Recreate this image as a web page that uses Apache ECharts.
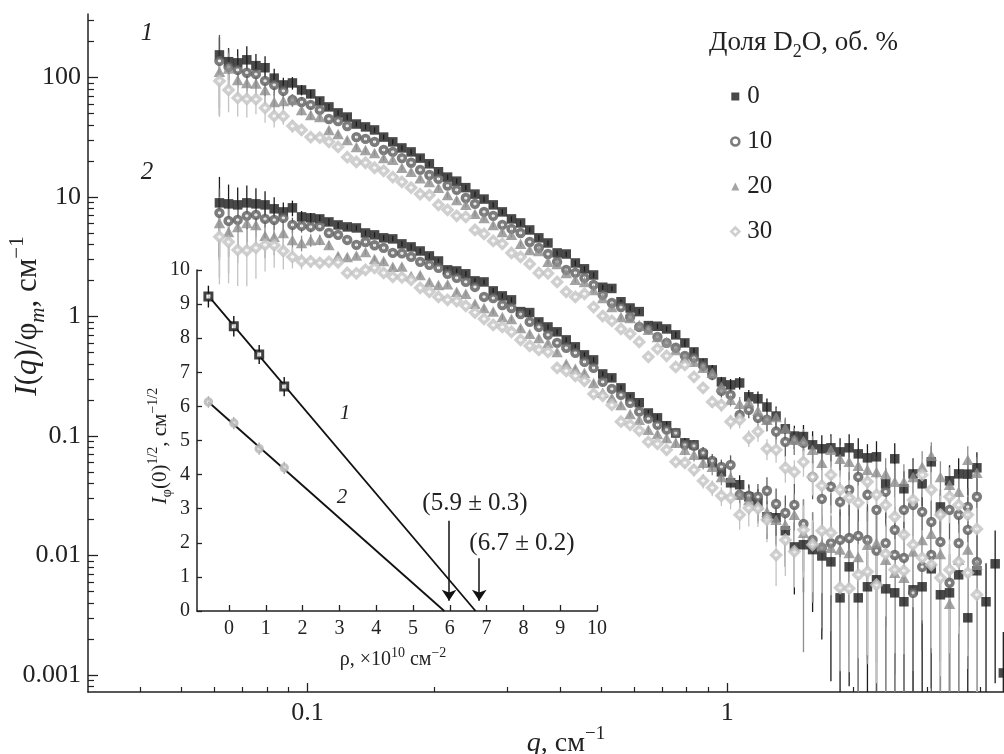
<!DOCTYPE html>
<html><head><meta charset="utf-8">
<script src="https://cdn.jsdelivr.net/npm/echarts@6/dist/echarts.min.js"></script>
<style>html,body{margin:0;padding:0;background:#fff}#c{width:1004px;height:754px}</style>
</head><body><div id="c"></div>
<script>
// ---------- main plot data ----------
const q = [
 0.0617,0.06487,0.0682,0.0717,0.07538,0.07925,0.08332,0.0876,0.09209,0.09682,
 0.1018,0.107,0.1125,0.1183,0.1244,0.1308,0.1375,0.1445,0.1519,0.1597,
 0.1679,0.1766,0.1856,0.1952,0.2052,0.2157,0.2268,0.2384,0.2507,0.2635,
 0.2771,0.2913,0.3063,0.322,0.3385,0.3559,0.3742,0.3934,0.4136,0.4348,
 0.4571,0.4806,0.5053,0.5312,0.5585,0.5872,0.6173,0.649,0.6823,0.7174,
 0.7542,0.7929,0.8336,0.8764,0.9214,0.9688,1.019,1.071,1.126,1.184,
 1.244,1.308,1.376,1.446,1.52,1.598,1.681,1.767,1.858,1.953,
 2.053,2.159,2.269,2.386,2.508,2.637,2.773,2.915,3.065,3.222,
 3.387,3.561,3.744,3.936,4.138,4.351,4.55];

// curve 1 (upper set), D2O 0,10,20,30 %
const up0 = [
 155,136,133,141,126,121,99.1,86.9,90.3,78.9,
 73.1,63.8,56.9,50.7,46.8,40.9,38.7,36.5,31.8,29.0,
 25.8,23.9,21.2,19.0,16.3,14.7,13.6,12.0,10.6,9.63,
 8.61,7.52,6.57,6.08,5.31,4.56,4.13,3.41,3.34,2.81,
 2.51,2.23,1.76,1.72,1.33,1.18,1.10,0.84,0.83,0.788,
 0.703,0.602,0.506,0.410,0.358,0.284,0.268,0.278,0.213,0.205,
 0.175,0.147,0.115,0.100,0.099,0.0844,0.0782,0.0797,0.0737,0.0797,
 0.0709,0.0657,0.0670,0.0398,0.0645,0.0362,0.0482,0.0398,0.0608,0.0255,
 0.0422,0.0482,0.0480,0.0542];
const up1 = [
 138,123,116,110,107,93.9,86.9,77.4,65.0,62.5,
 59.1,53.7,45.1,43.4,39.4,31.8,30.7,29.0,24.8,23.9,
 21.2,19.4,16.9,15.3,14.2,12.5,11.5,9.82,8.78,7.52,
 6.97,5.85,5.42,5.01,4.21,3.76,3.34,2.87,2.46,2.32,
 2.11,1.84,1.52,1.30,1.20,0.991,0.819,0.788,0.676,0.602,
 0.548,0.469,0.451,0.387,0.325,0.239,0.221,0.150,0.166,0.142,
 0.137,0.109,0.0894,0.0929,0.0877,0.0455,0.0298,0.0376,0.0281,0.0355,
 0.0455,0.0322,0.0241,0.0342,0.0164,0.0241,0.0265,0.0232,0.0191,0.0227,
 0.0241,0.0219,0.0255,0.0310];
const up2 = [
 112,119,95.7,90.3,89.5,78.9,62.5,63.8,65.0,53.7,
 48.7,46.8,36.5,33.8,30.1,26.3,24.8,23.4,21.2,20.5,
 17.6,16.3,14.4,13.4,12.0,10.4,9.48,8.61,7.24,6.70,
 5.85,5.11,4.83,4.06,3.61,3.54,2.87,2.76,2.32,2.03,
 1.95,1.67,1.43,1.20,0.991,0.972,0.851,0.774,0.676,0.614,
 0.526,0.451,0.418,0.372,0.338,0.258,0.201,0.186,0.193,0.163,
 0.137,0.144,0.117,0.0929,0.0915,0.0766,0.0597,0.0766,0.0645,0.0608,
 0.0563,0.0521,0.0501,0.0482,0.0414,0.0414,0.0455,0.0552,0.0683,0.0455,
 0.0391,0.0342,0.0632,0.0492];
const up3 = [
 93.9,78.9,67.6,66.3,66.0,55.8,47.8,47.5,39.4,36.5,
 31.8,31.5,29.0,26.3,21.6,19.7,19.4,17.6,16.6,14.7,
 13.4,12.0,10.6,10.4,8.61,7.82,6.97,6.83,5.31,4.92,
 4.30,4.06,3.41,3.16,2.76,2.32,2.30,1.95,1.61,1.46,
 1.55,1.20,1.01,0.920,0.788,0.717,0.614,0.460,0.537,0.469,
 0.379,0.394,0.313,0.253,0.193,0.182,0.132,0.137,0.0963,0.109,
 0.0782,0.0766,0.0542,0.0501,0.0608,0.0455,0.0384,0.0473,0.0355,0.0304,
 0.0276,0.0414,0.0322,0.0265,0.0211,0.0149,0.0292,0.0473,0.0355,0.0219,
 0.0310,0.0265,0.0219,0.0167];

// curve 2 (lower set), D2O 0,10,20,30 %
const low0 = [
 8.95,8.78,8.61,8.95,8.78,8.61,7.98,7.52,8.13,6.83,
 6.70,6.57,6.20,5.85,5.63,5.52,5.01,4.83,4.56,4.47,
 4.06,3.83,3.54,3.22,2.92,2.46,2.41,2.28,1.99,1.95,
 1.64,1.49,1.38,1.10,1.08,0.902,0.819,0.745,0.638,0.558,
 0.478,0.434,0.331,0.307,0.253,0.213,0.190,0.156,0.142,0.122,
 0.106,0.0877,0.0844,0.0696,0.0597,0.0501,0.0406,0.0391,0.0310,0.0276,
 0.0211,0.0207,0.0161,0.0118,0.0123,0.0112,0.00991,0.00885,0.00442,0.00804,
 0.00442,0.00547,0.00626,0.00526,0.00487,0.00410,0.00516,0.00547,0.00774,0.00469,
 0.00487,0.00689,0.00301,0.00745,0.00410,0.00852,0.00104];
const low1 = [
 7.38,6.32,6.44,6.97,7.10,6.57,6.44,6.70,5.85,5.74,
 5.63,5.70,5.01,4.83,4.38,3.98,4.21,3.95,3.76,3.41,
 3.38,3.16,2.87,2.71,2.56,2.28,2.11,1.95,1.77,1.46,
 1.43,1.25,1.18,1.05,0.902,0.819,0.703,0.602,0.548,0.497,
 0.418,0.372,0.284,0.248,0.221,0.190,0.160,0.140,0.124,0.113,
 0.106,0.0844,0.0828,0.0724,0.0620,0.0552,0.0574,0.0322,0.0316,0.0310,
 0.0348,0.0270,0.0227,0.0265,0.0184,0.0135,0.0116,0.0127,0.0135,0.0140,
 0.0146,0.0135,0.0110,0.0127,0.0101,0.00956,0.00487,0.00804,0.0101,0.0130,
 0.00591,0.0127,0.0164,0.00885];
const low2 = [
 6.08,5.11,5.63,6.08,5.85,4.74,4.65,5.01,4.38,4.13,
 4.36,4.40,3.98,3.22,3.16,3.24,3.47,3.04,2.92,2.61,
 2.63,2.19,2.23,1.95,1.84,1.86,1.61,1.55,1.28,1.18,
 1.10,0.991,0.956,0.804,0.717,0.663,0.602,0.506,0.402,0.365,
 0.338,0.278,0.230,0.209,0.182,0.153,0.137,0.113,0.104,0.0965,
 0.0877,0.0766,0.0696,0.0597,0.0552,0.0455,0.0450,0.0322,0.0292,0.0265,
 0.0232,0.0199,0.0181,0.0219,0.0155,0.0135,0.0123,0.0116,0.0112,0.0105,
 0.00973,0.0123,0.0127,0.0092,0.00716,0.00650,0.0108,0.0135,0.0152,0.0103,
 0.00394,0.0092,0.0112,0.00836];
const low3 = [
 4.65,4.21,3.61,3.58,3.76,3.98,3.95,3.54,3.16,2.92,
 2.90,2.81,2.87,2.85,2.32,2.30,2.46,2.56,2.32,2.15,
 2.13,2.03,1.74,1.61,1.46,1.38,1.35,1.23,1.08,0.956,
 0.851,0.819,0.745,0.638,0.569,0.526,0.506,0.372,0.351,0.319,
 0.290,0.225,0.217,0.182,0.132,0.124,0.111,0.0894,0.0860,0.0766,
 0.0608,0.0597,0.0521,0.0422,0.0369,0.0316,0.0304,0.0219,0.0250,0.0248,
 0.0199,0.0101,0.0135,0.0108,0.0164,0.0123,0.0161,0.0155,0.00537,0.00530,
 0.00689,0.00730,0.00569,0.0103,0.00759,0.00745,0.0123,0.00956,0.00836,0.00650,
 0.00759,0.00885,0.00716,0.00469];

// relative errors (sigma / I)
const errUp0 = [
 0.4,0.3,0.3,0.3,0.25,0.25,0.2,0.15,0.12,0.1,
 0.08,0.07,0.06,0.05,0.05,0.05,0.05,0.05,0.05,0.05,
 0.05,0.05,0.05,0.05,0.05,0.05,0.05,0.05,0.05,0.05,
 0.05,0.05,0.05,0.05,0.05,0.05,0.05,0.05,0.05,0.05,
 0.05,0.05,0.05,0.05,0.05,0.05,0.05,0.05,0.05,0.05,
 0.06,0.07,0.08,0.08,0.1,0.1,0.12,0.12,0.14,0.15,
 0.18,0.2,0.2,0.22,0.25,0.3,0.3,0.3,0.3,0.3,
 0.35,0.3,0.35,0.35,0.35,0.4,0.35,0.35,0.35,0.4,
 0.35,0.35,0.35,0.35];
const errUp1 = [
 0.65,0.4,0.3,0.3,0.25,0.25,0.2,0.15,0.12,0.1,
 0.08,0.07,0.06,0.05,0.05,0.05,0.05,0.05,0.05,0.05,
 0.05,0.05,0.05,0.05,0.05,0.05,0.05,0.05,0.05,0.05,
 0.05,0.05,0.05,0.05,0.05,0.05,0.05,0.05,0.05,0.05,
 0.05,0.05,0.05,0.05,0.05,0.05,0.05,0.05,0.05,0.05,
 0.06,0.07,0.08,0.09,0.1,0.12,0.12,0.15,0.15,0.18,
 0.2,0.22,0.25,0.25,0.28,0.35,0.45,0.4,0.45,0.4,
 0.35,0.4,0.45,0.4,0.55,0.45,0.45,0.45,0.5,0.45,
 0.45,0.45,0.45,0.4];
const errUp2 = [
 0.5,0.35,0.3,0.3,0.25,0.25,0.2,0.15,0.12,0.1,
 0.08,0.07,0.06,0.05,0.05,0.05,0.05,0.05,0.05,0.05,
 0.05,0.05,0.05,0.05,0.05,0.05,0.05,0.05,0.05,0.05,
 0.05,0.05,0.05,0.05,0.05,0.05,0.05,0.05,0.05,0.05,
 0.05,0.05,0.05,0.05,0.05,0.05,0.05,0.05,0.05,0.05,
 0.06,0.07,0.08,0.08,0.1,0.12,0.12,0.14,0.15,0.16,
 0.2,0.2,0.22,0.25,0.25,0.3,0.3,0.3,0.3,0.32,
 0.35,0.35,0.35,0.35,0.4,0.4,0.4,0.35,0.3,0.35,
 0.4,0.4,0.3,0.35];
const errUp3 = [
 0.5,0.35,0.3,0.3,0.25,0.25,0.2,0.15,0.12,0.1,
 0.08,0.07,0.06,0.05,0.05,0.05,0.05,0.05,0.05,0.05,
 0.05,0.05,0.05,0.05,0.05,0.05,0.05,0.05,0.05,0.05,
 0.05,0.05,0.05,0.05,0.05,0.05,0.05,0.05,0.05,0.05,
 0.05,0.05,0.05,0.05,0.05,0.05,0.05,0.05,0.05,0.05,
 0.06,0.07,0.08,0.09,0.1,0.12,0.14,0.15,0.16,0.18,
 0.2,0.22,0.25,0.25,0.25,0.3,0.35,0.3,0.35,0.4,
 0.4,0.35,0.4,0.4,0.45,0.5,0.4,0.35,0.4,0.45,
 0.4,0.4,0.45,0.5];
const errLow0 = [
 0.65,0.45,0.4,0.4,0.35,0.3,0.25,0.2,0.15,0.12,
 0.1,0.08,0.07,0.06,0.05,0.05,0.05,0.05,0.05,0.05,
 0.05,0.05,0.05,0.05,0.05,0.05,0.05,0.05,0.05,0.05,
 0.05,0.05,0.05,0.05,0.05,0.05,0.05,0.05,0.05,0.05,
 0.05,0.05,0.05,0.05,0.05,0.05,0.06,0.06,0.07,0.08,
 0.08,0.1,0.1,0.12,0.14,0.15,0.2,0.2,0.25,0.3,
 0.35,0.4,0.5,0.6,0.6,0.7,0.8,0.9,1.1,0.9,
 1.1,1.0,1.0,1.0,1.1,1.2,1.0,1.0,0.9,1.1,
 1.1,1.0,1.3,1.0,1.1,0.9,1.2];
const errLow1 = [
 0.6,0.5,0.45,0.4,0.35,0.3,0.25,0.2,0.15,0.12,
 0.1,0.08,0.07,0.06,0.05,0.05,0.05,0.05,0.05,0.05,
 0.05,0.05,0.05,0.05,0.05,0.05,0.05,0.05,0.05,0.05,
 0.05,0.05,0.05,0.05,0.05,0.05,0.05,0.05,0.05,0.05,
 0.05,0.05,0.05,0.05,0.05,0.05,0.06,0.06,0.07,0.08,
 0.08,0.1,0.1,0.12,0.14,0.15,0.2,0.22,0.25,0.28,
 0.3,0.35,0.4,0.5,0.6,0.7,0.8,0.7,0.8,0.9,
 0.8,0.9,1.0,0.8,0.9,1.0,0.9,0.8,1.0,0.9,
 1.1,0.8,0.9,1.0];
const errLow2 = [
 0.65,0.55,0.5,0.45,0.4,0.35,0.3,0.25,0.2,0.15,
 0.12,0.1,0.08,0.06,0.05,0.05,0.05,0.05,0.05,0.05,
 0.05,0.05,0.05,0.05,0.05,0.05,0.05,0.05,0.05,0.05,
 0.05,0.05,0.05,0.05,0.05,0.05,0.05,0.05,0.05,0.05,
 0.05,0.05,0.05,0.05,0.05,0.05,0.06,0.06,0.07,0.08,
 0.08,0.1,0.12,0.12,0.15,0.15,0.2,0.22,0.25,0.3,
 0.35,0.4,0.45,0.5,0.9,0.7,0.8,0.8,0.9,0.9,
 1.0,0.9,0.9,1.0,1.1,1.0,0.9,0.8,0.9,1.0,
 1.2,1.0,0.9,1.0];
const errLow3 = [
 0.6,0.55,0.5,0.5,0.45,0.4,0.35,0.3,0.2,0.15,
 0.12,0.1,0.08,0.06,0.05,0.05,0.05,0.05,0.05,0.05,
 0.05,0.05,0.05,0.05,0.05,0.05,0.05,0.05,0.05,0.05,
 0.05,0.05,0.05,0.05,0.05,0.05,0.05,0.05,0.05,0.05,
 0.05,0.05,0.05,0.05,0.05,0.05,0.06,0.06,0.07,0.08,
 0.08,0.1,0.12,0.14,0.15,0.18,0.2,0.25,0.3,0.3,
 0.35,0.45,0.5,0.5,0.6,0.6,0.7,0.7,0.8,0.8,
 0.8,0.8,0.85,0.7,0.8,0.8,0.7,0.7,0.8,0.85,
 0.8,0.75,0.8,0.9];

const fractions = ['0', '10', '20', '30'];
const majorXTicks = [0.1, 1];
const minorXTicks = [0.04,0.05,0.06,0.07,0.08,0.09,0.2,0.3,0.4,0.5,0.6,0.7,0.8,0.9,2,3,4];
const majorYTicks = [0.001, 0.01, 0.1, 1, 10, 100];
const minorYTicks = [0.0008,0.0009,
 0.002,0.003,0.004,0.005,0.006,0.007,0.008,0.009,
 0.02,0.03,0.04,0.05,0.06,0.07,0.08,0.09,
 0.2,0.3,0.4,0.5,0.6,0.7,0.8,0.9,
 2,3,4,5,6,7,8,9,
 20,30,40,50,60,70,80,90,
 200,300];

// ---------- inset data ----------
const rhoIn = [-0.56, 0.13, 0.82, 1.5];
const sqrtI1 = [9.22, 8.35, 7.52, 6.58];
const sqrtI2 = [6.13, 5.51, 4.76, 4.20];
const sqrtErr1 = [0.32, 0.3, 0.28, 0.28];
const sqrtErr2 = [0.17, 0.18, 0.18, 0.18];
const fit1Rho = [-0.56, 6.7], fit1Val = [9.24, 0];
const fit2Rho = [-0.56, 5.85], fit2Val = [6.13, 0];
const arrowRho = [5.98, 6.8], arrowTop = [2.65, 1.55], arrowTip = [0.3, 0.3];
const insetXTicks = [0,1,2,3,4,5,6,7,8,9,10];

// ---------- build ----------
const FONT = 'Liberation Serif';
const INK = '#222';
const X_MIN = 0.03, X_MAX = 4.567, Y_MIN = 0.00072, Y_MAX = 341;
const IX_MIN = -0.87, IX_MAX = 10;

const styles = [
  {symbol:'rect', size:9.5, item:{color:'#1c1c1c'}, err:'#1c1c1c'},
  {symbol:'circle', size:6.8, item:{color:'#ffffff', borderColor:'#5b5b5b', borderWidth:3.6}, err:'#5b5b5b'},
  {symbol:'triangle', size:[11.5,10.5], item:{color:'#8d8d8d'}, err:'#8d8d8d'},
  {symbol:'diamond', size:[9,9], item:{color:'#ffffff', borderColor:'#c3c3c3', borderWidth:3.4}, err:'#c3c3c3'}
];
const upSets = [up0, up1, up2, up3], lowSets = [low0, low1, low2, low3];
const upErr = [errUp0, errUp1, errUp2, errUp3], lowErr = [errLow0, errLow1, errLow2, errLow3];

function pts(vals) { return vals.map((v, i) => [q[i], v]); }
function errs(vals, rel) {
  return vals.map((v, i) => [q[i], Math.max(v * (1 - rel[i]), Y_MIN), Math.min(v * (1 + rel[i]), Y_MAX)]);
}
function errRender(color, width) {
  return function (params, api) {
    const a = api.coord([api.value(0), api.value(2)]);
    const b = api.coord([api.value(0), api.value(1)]);
    return {type:'line', shape:{x1:a[0], y1:a[1], x2:b[0], y2:b[1]}, style:{stroke:color, lineWidth:width}};
  };
}

const series = [];
[upSets, lowSets].forEach((sets, s) => {
  const E = s === 0 ? upErr : lowErr;
  sets.forEach((vals, k) => {
    series.push({type:'custom', name:'err' + s + k, xAxisIndex:0, yAxisIndex:0, silent:true,
      renderItem: errRender(styles[k].err, 1.3), data: errs(vals, E[k]), z:1});
  });
});
for (let k = 0; k < 4; k++) {
  [upSets, lowSets].forEach((sets) => {
    series.push({type:'scatter', name:fractions[k], xAxisIndex:0, yAxisIndex:0,
      symbol:styles[k].symbol, symbolSize:styles[k].size, itemStyle:styles[k].item,
      data: pts(sets[k]), z:3 + k, silent:true});
  });
}
// inset
series.push({type:'custom', name:'inErr1', xAxisIndex:3, yAxisIndex:3, silent:true, z:2,
  renderItem: errRender('#111', 1.4), data: rhoIn.map((r, i) => [r, sqrtI1[i] - sqrtErr1[i], sqrtI1[i] + sqrtErr1[i]])});
series.push({type:'custom', name:'inErr2', xAxisIndex:3, yAxisIndex:3, silent:true, z:2,
  renderItem: errRender('#a8a8a8', 1.4), data: rhoIn.map((r, i) => [r, sqrtI2[i] - sqrtErr2[i], sqrtI2[i] + sqrtErr2[i]])});
series.push({type:'line', name:'fit1', xAxisIndex:3, yAxisIndex:3, symbol:'none', silent:true, z:2,
  lineStyle:{color:'#111', width:1.8}, data: fit1Rho.map((r, i) => [r, fit1Val[i]])});
series.push({type:'line', name:'fit2', xAxisIndex:3, yAxisIndex:3, symbol:'none', silent:true, z:2,
  lineStyle:{color:'#111', width:1.8}, data: fit2Rho.map((r, i) => [r, fit2Val[i]]),
  markLine:{silent:true, symbol:['none','arrow'], symbolSize:11, label:{show:false},
    lineStyle:{color:'#111', width:1.5, type:'solid'}, animation:false,
    data: arrowRho.map((r, i) => [{coord:[r, arrowTop[i]]}, {coord:[r, arrowTip[i]]}])}});
series.push({type:'scatter', name:'in1', xAxisIndex:3, yAxisIndex:3, symbol:'rect', symbolSize:7, silent:true, z:4,
  itemStyle:{color:'#fff', borderColor:'#111', borderWidth:3}, data: rhoIn.map((r, i) => [r, sqrtI1[i]])});
series.push({type:'scatter', name:'in2', xAxisIndex:3, yAxisIndex:3, symbol:'circle', symbolSize:6.5, silent:true, z:4,
  itemStyle:{color:'#e2e2e2', borderColor:'#b5b5b5', borderWidth:3}, data: rhoIn.map((r, i) => [r, sqrtI2[i]])});

const lg = Math.log10;
const axLine = {show:true, onZero:false, lineStyle:{color:INK, width:1.5}};
const noLine = {show:false, onZero:false};
function fmtDecade(v) {
  const l = Math.log10(v);
  if (Math.abs(l - Math.round(l)) > 1e-6) return '';
  return String(Number(v.toPrecision(3)));
}
const tickLab = {fontFamily:FONT, fontSize:26, color:INK};

const xAxis = [
  {type:'log', gridIndex:0, min:X_MIN, max:X_MAX, position:'bottom', axisLine:axLine, axisTick:{show:false},
   splitLine:{show:false}, axisLabel:Object.assign({margin:8, showMinLabel:false, showMaxLabel:false, formatter:fmtDecade}, tickLab)},
  {type:'value', gridIndex:0, min:lg(X_MIN), max:lg(X_MAX), position:'bottom', axisLine:noLine, splitLine:{show:false},
   axisLabel:{show:false}, axisTick:{show:true, inside:true, length:9, customValues:majorXTicks.map(lg), lineStyle:{color:INK, width:1.3}}},
  {type:'value', gridIndex:0, min:lg(X_MIN), max:lg(X_MAX), position:'bottom', axisLine:noLine, splitLine:{show:false},
   axisLabel:{show:false}, axisTick:{show:true, inside:true, length:5, customValues:minorXTicks.map(lg), lineStyle:{color:INK, width:1.2}}},
  {type:'value', gridIndex:1, min:IX_MIN, max:IX_MAX, position:'bottom', axisLine:axLine, splitLine:{show:false},
   axisTick:{show:true, inside:true, length:6, customValues:insetXTicks, lineStyle:{color:INK, width:1.3}},
   axisLabel:{customValues:insetXTicks, margin:8, fontFamily:FONT, fontSize:20, color:INK}}
];
const yAxis = [
  {type:'log', gridIndex:0, min:Y_MIN, max:Y_MAX, position:'left', axisLine:axLine, axisTick:{show:false},
   splitLine:{show:false}, axisLabel:Object.assign({margin:7, showMinLabel:false, showMaxLabel:false, formatter:fmtDecade}, tickLab)},
  {type:'value', gridIndex:0, min:lg(Y_MIN), max:lg(Y_MAX), position:'left', axisLine:noLine, splitLine:{show:false},
   axisLabel:{show:false}, axisTick:{show:true, inside:true, length:10, customValues:majorYTicks.map(lg), lineStyle:{color:INK, width:1.3}}},
  {type:'value', gridIndex:0, min:lg(Y_MIN), max:lg(Y_MAX), position:'left', axisLine:noLine, splitLine:{show:false},
   axisLabel:{show:false}, axisTick:{show:true, inside:true, length:6, customValues:minorYTicks.map(lg), lineStyle:{color:INK, width:1.2}}},
  {type:'value', gridIndex:1, min:0, max:10, interval:1, position:'left', axisLine:axLine, splitLine:{show:false},
   axisTick:{show:true, inside:true, length:5, lineStyle:{color:INK, width:1.3}},
   axisLabel:{margin:7, fontFamily:FONT, fontSize:20, color:INK}}
];

function rich(base) {
  const s = Math.round(base * 0.68);
  const lh = Math.round(base * 1.35);
  return {
    n:{fontSize:base, fontFamily:FONT, fill:INK, lineHeight:lh},
    i:{fontSize:base, fontFamily:FONT, fontStyle:'italic', fill:INK, lineHeight:lh},
    sb:{fontSize:s, fontFamily:FONT, fontStyle:'italic', fill:INK, verticalAlign:'bottom'},
    sr:{fontSize:s, fontFamily:FONT, fill:INK, verticalAlign:'bottom'},
    sp:{fontSize:s, fontFamily:FONT, fill:INK, verticalAlign:'top'}
  };
}
function txt(x, y, text, base, opt) {
  opt = opt || {};
  return {type:'text', x:x, y:y, rotation:opt.rot || 0, silent:true, z:10,
    style:{text:text, rich:rich(base), fill:INK, fontFamily:FONT, fontSize:base,
      align:opt.align || 'center', verticalAlign:'middle',
      textAlign:opt.align || 'center', textVerticalAlign:'middle'}};
}

const graphic = [
  txt(28, 316, '{i|I}{n|(}{i|q}{n|)/φ}{sb|m}{n|, см}{sp|−1}', 31, {rot:Math.PI/2}),
  txt(566, 744, '{i|q}{n|, см}{sp|−1}', 28),
  txt(709, 43, '{n|Доля D}{sr|2}{n|O, об. %}', 27, {align:'left'}),
  txt(147, 33, '{i|1}', 25),
  txt(147, 172, '{i|2}', 25),
  txt(345, 413, '{i|1}', 21),
  txt(342, 497, '{i|2}', 21),
  txt(160, 446, '{i|I}{sr|φ}{n|(0)}{sp|1/2}{n|, см}{sp|−1/2}', 21, {rot:Math.PI/2}),
  txt(393, 660, '{n|ρ, ×10}{sp|10}{n| см}{sp|−2}', 20),
  txt(475, 503, '{n|(5.9 ± 0.3)}', 25),
  txt(522, 543, '{n|(6.7 ± 0.2)}', 25)
];

const legendData = fractions.map((n, k) => ({name:n, icon:styles[k].symbol,
  itemStyle: k === 1 ? {color:'#fff', borderColor:'#5b5b5b', borderWidth:2.6}
           : k === 3 ? {color:'#fff', borderColor:'#c3c3c3', borderWidth:2.6}
           : {color:styles[k].item.color}}));

const chart = echarts.init(document.getElementById('c'), null, {renderer:'canvas'});
chart.setOption({
  animation:false,
  backgroundColor:'#ffffff',
  textStyle:{fontFamily:FONT},
  grid:[
    {left:88, right:0, top:14, bottom:62},
    {left:197, top:270, width:400, height:341}
  ],
  legend:{show:true, orient:'vertical', left:725, top:79, itemWidth:8, itemHeight:8, itemGap:20, selectedMode:false,
    textStyle:{fontFamily:FONT, fontSize:25, color:INK, lineHeight:25, padding:[0,0,0,3]}, data:legendData},
  xAxis:xAxis, yAxis:yAxis, series:series, graphic:graphic
});
</script></body></html>
